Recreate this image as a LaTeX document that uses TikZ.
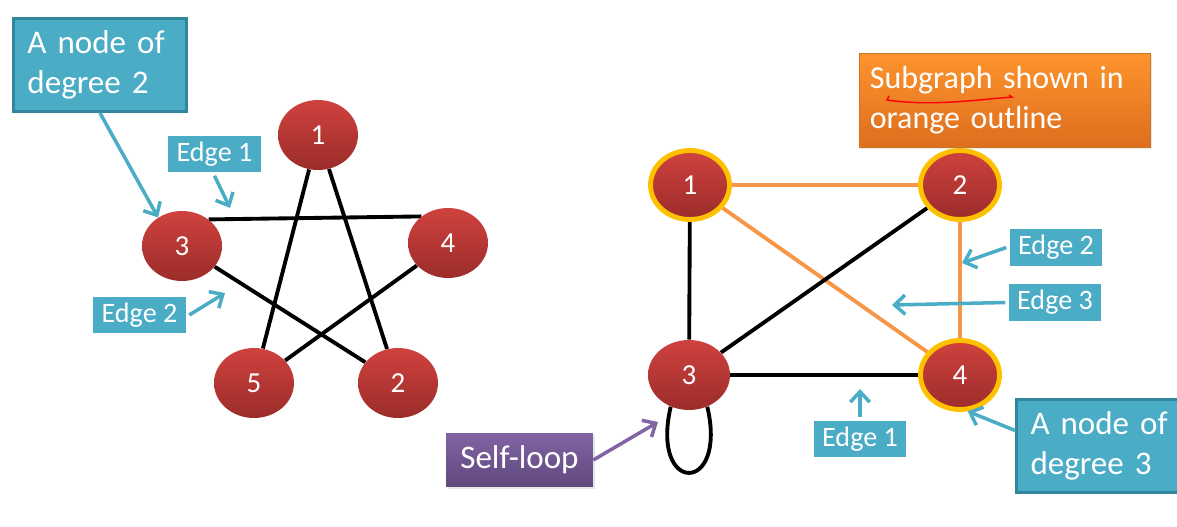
\documentclass[tikz,border=0pt]{standalone}
\usepackage{fontspec}
\setmainfont{Carlito}
\usetikzlibrary{shapes.geometric,arrows.meta,shadows,backgrounds}
\definecolor{vtop}{RGB}{207,66,62}
\definecolor{vbot}{RGB}{155,44,42}
\definecolor{goldrim}{RGB}{255,192,0}
\definecolor{subline}{RGB}{247,150,70}
\definecolor{boxteal}{RGB}{75,172,198}
\definecolor{tealrim}{RGB}{49,133,156}
\definecolor{orangetop}{RGB}{253,148,45}
\definecolor{orangebot}{RGB}{222,110,30}
\definecolor{purpletop}{RGB}{128,100,164}
\definecolor{purplebot}{RGB}{96,72,124}

\begin{document}
\begin{tikzpicture}[x=0.02cm,y=-0.02cm,
  vtx/.style={ellipse,inner sep=0pt,minimum width=1.6cm,minimum height=1.4cm,
    top color=vtop,bottom color=vbot,text=white,font=\fontsize{16.5}{19}\selectfont},
  subvtx/.style={vtx,draw=goldrim,line width=2.8pt,minimum width=1.58cm,minimum height=1.38cm},
  edgebox/.style={fill=boxteal,draw=white,line width=2pt,text=white,inner sep=0pt,
    minimum width=1.92cm,minimum height=0.8cm,font=\fontsize{16}{19}\selectfont,
    drop shadow={shadow xshift=0.8pt,shadow yshift=-0.8pt,opacity=0.25}},
  bigbox/.style={fill=boxteal,draw=tealrim,line width=1.7pt,text=white,anchor=north west,
    align=left,text width=2.9cm,minimum width=3.46cm,minimum height=1.86cm,
    font=\fontsize{18.8}{22.8}\selectfont},
  callout/.style={draw=boxteal,line width=2pt,-{Straight Barb[length=6pt,width=11pt]}},
  link/.style={line width=2.2pt},
  sublink/.style={draw=subline,line width=2.2pt}]
\useasboundingbox (0,0) rectangle (1177,527);

\node[vtx] (l1) at (318,135) {1};
\node[vtx] (l3) at (182,246) {3};
\node[vtx] (l4) at (448,243) {4};
\node[vtx] (l5) at (254,383) {5};
\node[vtx] (l2) at (398,383) {2};

\node[subvtx] (r1) at (690,185) {1};
\node[subvtx] (r2) at (960,185) {2};
\node[vtx,minimum width=1.64cm] (r3) at (689,375) {3};
\node[subvtx] (r4) at (960,375) {4};

\begin{scope}[on background layer]
\draw[link] (l1) -- (l5);
\draw[link] (l1) -- (l2);
\draw[link] (l3.45) -- (l4.135);
\draw[link] (l3) -- (l2);
\draw[link] (l4) -- (l5);
\draw[sublink] (r1) -- (r2);
\draw[sublink] (r1) -- (r4);
\draw[sublink] (r2) -- (r4);
\draw[link] (r1) -- (r3);
\draw[link] (r2) -- (r3);
\draw[link] (r3) -- (r4);
\draw[link] (r3.240) .. controls (650,495) and (728,495) .. (r3.300);
\end{scope}

\node[bigbox] (degtwo) at (12,17) {A node of\\degree 2};
\node[edgebox] (eone) at (214.5,154) {Edge 1};
\node[edgebox] (etwo) at (139.5,315) {Edge 2};
\coordinate (eonetip) at (230,208);
\coordinate (etwotip) at (225,293);
\draw[callout] (degtwo.south) -- (l3.130);
\draw[callout] (eone.south) -- (eonetip);
\draw[callout] (etwo.east) -- (etwotip);

\node[fill=orangetop,top color=orangetop,bottom color=orangebot,draw=orangetop!80!black,
  line width=0.4pt,text=white,align=left,text width=5.4cm,minimum width=5.82cm,minimum height=1.88cm,
  anchor=north west,font=\fontsize{18.2}{22.8}\selectfont,
  drop shadow={shadow xshift=1pt,shadow yshift=-1pt,opacity=0.2}] (sub) at (859,53)
  {Subgraph shown in\\orange outline};
\draw[red,line width=0.8pt] (889,96) -- (887,100) .. controls (930,106) and (965,101) .. (1012,97) -- (1009,95);

\node[edgebox] (rtwoe) at (1056,247.5) {Edge 2};
\node[edgebox] (rthreee) at (1055,302.5) {Edge 3};
\node[edgebox] (ronee) at (860,439) {Edge 1};
\node[bigbox] (degthree) at (1015,398) {A node of\\degree 3};
\coordinate (rtwotip) at (962,263);
\coordinate (rthreetip) at (892,305);
\coordinate (ronetip) at (860,389);
\draw[callout] (rtwoe.west) -- (rtwotip);
\draw[callout] (rthreee.west) -- (rthreetip);
\draw[callout] (ronee.north) -- (ronetip);
\draw[callout] (degthree.170) -- (r4.282);

\node[top color=purpletop,bottom color=purplebot,text=white,minimum width=2.94cm,minimum height=1.08cm,
  font=\fontsize{18.8}{22.8}\selectfont,
  drop shadow={shadow xshift=1pt,shadow yshift=-1pt,opacity=0.2}] (loopbox) at (519.5,460) {Self-loop};
\coordinate (looptip) at (658,422);
\draw[callout,draw=purpletop] (loopbox.east) -- (looptip);
\end{tikzpicture}
\end{document}
